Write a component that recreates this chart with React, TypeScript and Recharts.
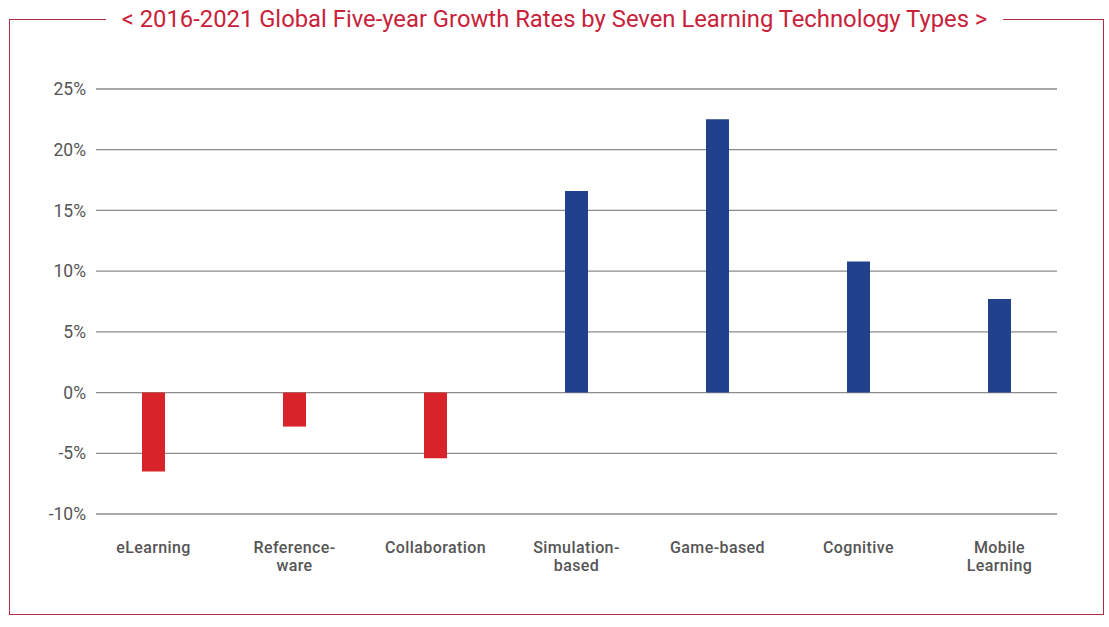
import React from 'react';
import { BarChart, Bar, Cell, CartesianGrid, XAxis, YAxis } from 'recharts';

const categories = [
  'eLearning',
  'Reference-\nware',
  'Collaboration',
  'Simulation-\nbased',
  'Game-based',
  'Cognitive',
  'Mobile\nLearning',
];
const growthRates = [-6.5, -2.8, -5.4, 16.6, 22.5, 10.8, 7.7];
const yTicks = [-10, -5, 0, 5, 10, 15, 20, 25];

const TITLE = '< 2016-2021 Global Five-year Growth Rates by Seven Learning Technology Types >';
const RED = '#d9232b';
const BLUE = '#22418c';
const FRAME = '#b12b42';
const GRID = '#8c8c8c';
const FONT = 'Roboto, "Noto Sans", sans-serif';

const data = categories.map((name, i) => ({ name, value: growthRates[i] }));

const CategoryTick = (props: any) => {
  const { x, y, payload } = props;
  const lines = String(payload.value).split('\n');
  return (
    <text
      x={x}
      y={y + 38.5}
      textAnchor="middle"
      fill="#555"
      fontSize={16}
      fontWeight={500}
      letterSpacing={0.4}
      fontFamily={FONT}
    >
      {lines.map((l, i) => (
        <tspan key={i} x={x} dy={i === 0 ? 0 : 18.5}>
          {l}
        </tspan>
      ))}
    </text>
  );
};

// grid lines are a bit shorter than the category band on both sides
const GridLine = (props: any) => {
  const { x1, x2, y1, y2 } = props;
  return <line x1={x1 + 13} x2={x2 - 13} y1={y1} y2={y2} stroke={GRID} strokeWidth={1.3} />;
};

export default function App() {
  return (
    <div style={{ position: 'relative', width: 1109, height: 627, background: '#fff' }}>
      <style>{'body{margin:0}'}</style>
      <div
        style={{
          position: 'absolute',
          left: 9,
          top: 19,
          width: 1093,
          height: 594,
          border: `1.5px solid ${FRAME}`,
        }}
      />
      <div
        style={{
          position: 'absolute',
          left: 0,
          width: 1109,
          top: 5,
          textAlign: 'center',
          zIndex: 2,
        }}
      >
        <span
          style={{
            background: '#fff',
            padding: '0 16px',
            color: '#c8223a',
            fontFamily: FONT,
            fontSize: 23.8,
            lineHeight: '28px',
          }}
        >
          {TITLE}
        </span>
      </div>
      <div style={{ position: 'absolute', left: 0, top: 0 }}>
        <BarChart
          width={1109}
          height={627}
          data={data}
          margin={{ top: 89, right: 39, left: 0, bottom: 0 }}
        >
          <CartesianGrid vertical={false} horizontal={GridLine} />
          <XAxis
            dataKey="name"
            interval={0}
            height={113}
            axisLine={false}
            tickLine={false}
            tickSize={0}
            tickMargin={0}
            tick={<CategoryTick />}
          />
          <YAxis
            width={83}
            domain={[-10, 25]}
            ticks={yTicks}
            axisLine={false}
            tickLine={false}
            tickSize={0}
            tickMargin={-3}
            tickFormatter={(v: number) => `${v}%`}
            tick={{ fill: '#555', fontSize: 17.5, fontFamily: FONT }}
          />
          <Bar dataKey="value" barSize={23} isAnimationActive={false}>
            {data.map((d, i) => (
              <Cell key={i} fill={d.value < 0 ? RED : BLUE} />
            ))}
          </Bar>
        </BarChart>
      </div>
    </div>
  );
}
